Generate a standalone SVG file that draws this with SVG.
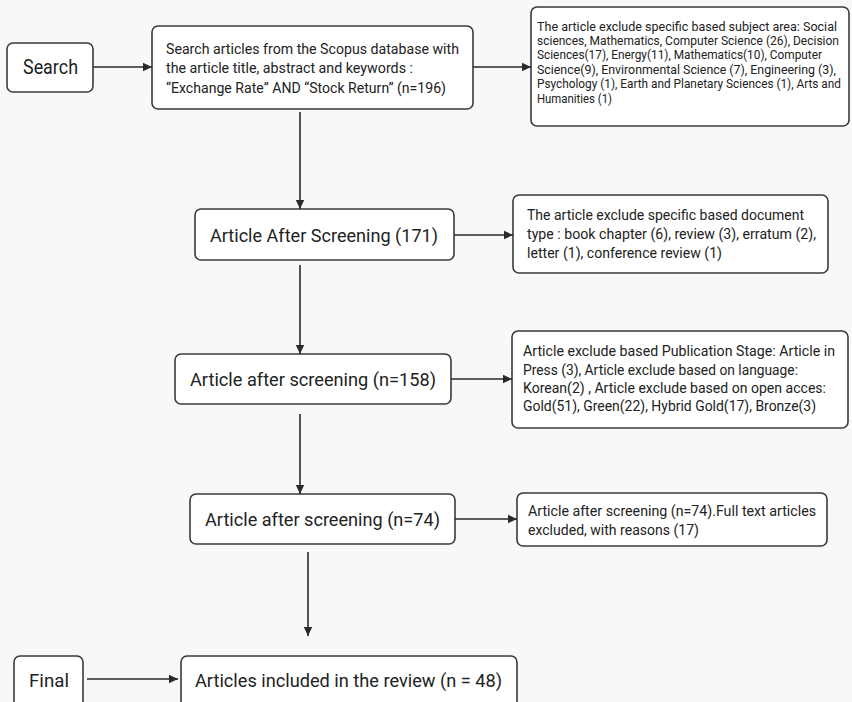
<svg xmlns="http://www.w3.org/2000/svg" width="852" height="702" viewBox="0 0 852 702">
<defs>
<marker id="arr" markerUnits="userSpaceOnUse" markerWidth="10" markerHeight="10" refX="9" refY="5" orient="auto">
<path d="M0,0.8 L9,5 L0,9.2 Z" fill="#2a2a2a"/>
</marker>
<style>
.box{fill:#ffffff;stroke:#3a3a3a;stroke-width:1.6}
.t{font-family:Roboto,"Liberation Sans",sans-serif;fill:#222}
.big{font-size:18.5px}
.med{font-size:15.5px}
.sm{font-size:14.5px}
.xs{font-size:12.2px}
.con line{stroke:#2a2a2a;stroke-width:1.6;marker-end:url(#arr)}
</style>
</defs>
<rect x="0" y="0" width="852" height="702" fill="#f8f8f8"/>

<g id="node-search">
<rect class="box" x="7" y="43" width="86" height="49" rx="6"/>
<text class="t" x="23" y="74" font-size="19.5" textLength="55" lengthAdjust="spacingAndGlyphs">Search</text>
</g>

<g id="node-scopus">
<rect class="box" x="152" y="26" width="321" height="83" rx="6"/>
<text class="t med" x="166" y="54" textLength="293" lengthAdjust="spacingAndGlyphs">Search articles from the Scopus database with</text>
<text class="t med" x="166" y="73" textLength="247" lengthAdjust="spacingAndGlyphs">the article title, abstract and keywords :</text>
<text class="t med" x="166" y="93" textLength="280" lengthAdjust="spacingAndGlyphs">“Exchange Rate” AND “Stock Return” (n=196)</text>
</g>

<g id="node-excl-subject">
<rect class="box" x="531" y="7" width="318" height="119" rx="6"/>
<text class="t xs" x="537" y="31" textLength="300" lengthAdjust="spacingAndGlyphs">The article exclude specific based subject area: Social</text>
<text class="t xs" x="537" y="45" textLength="302" lengthAdjust="spacingAndGlyphs">sciences, Mathematics, Computer Science (26), Decision</text>
<text class="t xs" x="537" y="59" textLength="285" lengthAdjust="spacingAndGlyphs">Sciences(17), Energy(11), Mathematics(10), Computer</text>
<text class="t xs" x="537" y="74" textLength="299" lengthAdjust="spacingAndGlyphs">Science(9), Environmental Science (7), Engineering (3),</text>
<text class="t xs" x="537" y="88" font-size="11.5" textLength="304" lengthAdjust="spacingAndGlyphs">Psychology (1), Earth and Planetary Sciences (1), Arts and</text>
<text class="t xs" x="537" y="103" textLength="75" lengthAdjust="spacingAndGlyphs">Humanities (1)</text>
</g>

<g id="node-171">
<rect class="box" x="195" y="209" width="259" height="51" rx="6"/>
<text class="t big" x="210" y="242" textLength="228" lengthAdjust="spacingAndGlyphs">Article After Screening (171)</text>
</g>

<g id="node-excl-doctype">
<rect class="box" x="513" y="195" width="315" height="78" rx="6"/>
<text class="t sm" x="527" y="220" textLength="277" lengthAdjust="spacingAndGlyphs">The article exclude specific based document</text>
<text class="t sm" x="527" y="239" textLength="289" lengthAdjust="spacingAndGlyphs">type : book chapter (6), review (3), erratum (2),</text>
<text class="t sm" x="527" y="258" textLength="195" lengthAdjust="spacingAndGlyphs">letter (1), conference review (1)</text>
</g>

<g id="node-158">
<rect class="box" x="175" y="354" width="276" height="50" rx="6"/>
<text class="t big" x="190" y="386" textLength="246" lengthAdjust="spacingAndGlyphs">Article after screening (n=158)</text>
</g>

<g id="node-excl-stage">
<rect class="box" x="512" y="331" width="336" height="97" rx="6"/>
<text class="t sm" x="523" y="356" textLength="312" lengthAdjust="spacingAndGlyphs">Article exclude based Publication Stage: Article in</text>
<text class="t sm" x="523" y="375" textLength="275" lengthAdjust="spacingAndGlyphs">Press (3), Article exclude based on language:</text>
<text class="t sm" x="523" y="393" textLength="303" lengthAdjust="spacingAndGlyphs">Korean(2) , Article exclude based on open acces:</text>
<text class="t sm" x="523" y="411" textLength="293" lengthAdjust="spacingAndGlyphs">Gold(51), Green(22), Hybrid Gold(17), Bronze(3)</text>
</g>

<g id="node-74">
<rect class="box" x="190" y="494" width="265" height="50" rx="6"/>
<text class="t big" x="205" y="526" textLength="235" lengthAdjust="spacingAndGlyphs">Article after screening (n=74)</text>
</g>

<g id="node-excl-fulltext">
<rect class="box" x="517" y="493" width="310" height="53" rx="6"/>
<text class="t sm" x="528" y="516" textLength="288" lengthAdjust="spacingAndGlyphs">Article after screening (n=74).Full text articles</text>
<text class="t sm" x="528" y="535" textLength="171" lengthAdjust="spacingAndGlyphs">excluded, with reasons (17)</text>
</g>

<g id="node-final">
<rect class="box" x="14" y="656" width="69" height="56" rx="6"/>
<text class="t" x="29" y="687" font-size="19" textLength="40" lengthAdjust="spacingAndGlyphs">Final</text>
</g>

<g id="node-included">
<rect class="box" x="181" y="656" width="336" height="56" rx="6"/>
<text class="t" x="195" y="687" font-size="19" textLength="307" lengthAdjust="spacingAndGlyphs">Articles included in the review (n = 48)</text>
</g>

<g id="connectors" class="con">
<line x1="93" y1="67" x2="152" y2="67"/>
<line x1="473" y1="67" x2="531" y2="67"/>
<line x1="300" y1="112" x2="300" y2="209"/>
<line x1="454" y1="235" x2="513" y2="235"/>
<line x1="300" y1="265" x2="300" y2="354"/>
<line x1="451" y1="379" x2="512" y2="379"/>
<line x1="300" y1="414" x2="300" y2="494"/>
<line x1="455" y1="519" x2="517" y2="519"/>
<line x1="308" y1="552" x2="308" y2="636"/>
<line x1="87" y1="679" x2="178" y2="679"/>
</g>
</svg>
